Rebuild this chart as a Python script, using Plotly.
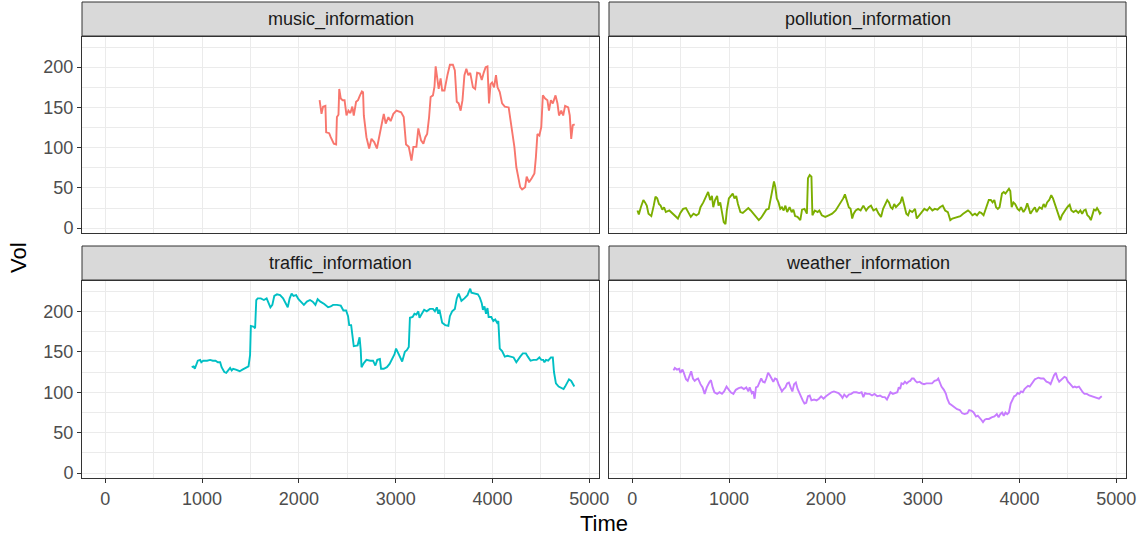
import plotly.graph_objects as go

# ---- data -------------------------------------------------------------
panels = ["music_information", "pollution_information",
          "traffic_information", "weather_information"]
colors = ["#F8766D", "#7CAE00", "#00BFC4", "#C77CFF"]

x_ticks = [0, 1000, 2000, 3000, 4000, 5000]
y_ticks = [0, 50, 100, 150, 200]

music_time = [2214, 2234, 2250, 2274, 2282, 2313, 2329, 2361, 2385, 2393,
              2409, 2417, 2433, 2452, 2472, 2492, 2512, 2532, 2552, 2567,
              2591, 2611, 2631, 2651, 2663, 2671, 2698, 2726, 2750, 2778,
              2806, 2829, 2857, 2877, 2897, 2925, 2948, 2976, 3008, 3056,
              3083, 3107, 3135, 3163, 3183, 3214, 3234, 3262, 3286, 3306,
              3325, 3345, 3361, 3385, 3401, 3413, 3433, 3444, 3464, 3480,
              3504, 3520, 3536, 3560, 3591, 3611, 3631, 3651, 3671, 3690,
              3710, 3730, 3750, 3770, 3798, 3821, 3841, 3869, 3889, 3909,
              3929, 3948, 3964, 3980, 3996, 4016, 4036, 4052, 4075, 4099,
              4127, 4167, 4187, 4206, 4226, 4246, 4266, 4286, 4306, 4337,
              4353, 4377, 4405, 4433, 4448, 4464, 4484, 4504, 4520, 4544,
              4567, 4583, 4603, 4623, 4651, 4671, 4687, 4710, 4730, 4750,
              4782, 4798, 4813, 4829, 4849]
music_vol = [159, 142, 151, 152, 119, 118, 113, 105, 104, 138,
             141, 173, 161, 159, 159, 140, 146, 143, 151, 140,
             157, 159, 165, 170, 169, 140, 113, 99, 111, 107,
             99, 115, 130, 142, 130, 138, 133, 142, 146, 144,
             138, 104, 101, 84, 101, 101, 124, 109, 105, 113,
             117, 138, 163, 165, 176, 201, 184, 173, 186, 171,
             171, 184, 191, 203, 203, 196, 157, 155, 146, 159,
             190, 198, 190, 193, 175, 173, 193, 192, 184, 193,
             200, 201, 155, 179, 181, 175, 190, 175, 169, 155,
             151, 150, 134, 117, 101, 76, 64, 51, 48, 51,
             64, 57, 62, 68, 88, 117, 115, 126, 165, 161,
             159, 146, 159, 155, 165, 155, 140, 146, 140, 152,
             150, 140, 111, 128, 129]

pollution_time = [54, 68, 89, 115, 132, 150, 168, 197, 222, 240,
                  258, 276, 293, 311, 329, 347, 383, 419, 447, 472,
                  497, 526, 555, 580, 605, 633, 662, 687, 705, 734,
                  758, 784, 805, 823, 837, 855, 877, 891, 909, 927,
                  945, 963, 977, 998, 1020, 1038, 1056, 1074, 1092, 1117,
                  1142, 1170, 1199, 1224, 1253, 1278, 1307, 1332, 1357, 1385,
                  1410, 1428, 1446, 1464, 1478, 1493, 1511, 1529, 1546, 1564,
                  1582, 1600, 1625, 1647, 1665, 1682, 1707, 1736, 1754, 1779,
                  1804, 1815, 1833, 1851, 1861, 1886, 1915, 1933, 1958, 1994,
                  2029, 2065, 2101, 2130, 2155, 2179, 2197, 2215, 2237, 2255,
                  2272, 2287, 2308, 2333, 2359, 2387, 2416, 2441, 2466, 2491,
                  2520, 2545, 2570, 2591, 2616, 2634, 2652, 2670, 2688, 2706,
                  2724, 2749, 2770, 2788, 2806, 2831, 2849, 2867, 2892, 2921,
                  2939, 2964, 2992, 3017, 3046, 3071, 3100, 3125, 3153, 3178,
                  3207, 3232, 3260, 3285, 3307, 3332, 3360, 3389, 3418, 3443,
                  3468, 3489, 3514, 3540, 3561, 3586, 3604, 3629, 3647, 3669,
                  3683, 3704, 3722, 3740, 3758, 3776, 3794, 3819, 3837, 3855,
                  3873, 3891, 3905, 3919, 3937, 3955, 3980, 3998, 4016, 4041,
                  4062, 4080, 4098, 4113, 4134, 4159, 4177, 4206, 4231, 4249,
                  4267, 4285, 4307, 4328, 4346, 4364, 4385, 4400, 4421, 4439,
                  4457, 4482, 4500, 4518, 4536, 4558, 4583, 4608, 4629, 4647,
                  4665, 4683, 4701, 4719, 4737, 4751, 4769, 4787, 4801, 4816,
                  4830, 4844]
pollution_vol = [22, 17, 26, 35, 32, 28, 18, 15, 28, 39,
                 37, 30, 28, 23, 26, 20, 22, 18, 15, 12,
                 19, 24, 25, 20, 14, 18, 16, 18, 26, 32,
                 38, 45, 35, 40, 26, 35, 40, 28, 32, 18,
                 7.5, 5, 22, 37, 41, 43, 37, 40, 30, 20,
                 19, 22, 25, 22, 18, 14, 10, 13, 18, 23,
                 24, 35, 47, 58, 51, 37, 32, 24, 26, 22,
                 28, 20, 26, 20, 23, 15, 14, 10, 23, 24,
                 18, 62, 66, 64, 16, 22, 20, 22, 16, 14,
                 16, 18, 22, 27, 32, 37, 42, 35, 26, 24,
                 12, 18, 22, 24, 22, 28, 22, 26, 28, 22,
                 24, 18, 14, 24, 30, 35, 32, 26, 24, 30,
                 26, 30, 32, 39, 30, 18, 16, 22, 20, 24,
                 12, 16, 20, 24, 22, 26, 22, 24, 23, 26,
                 28, 22, 20, 10, 12, 13, 14, 15, 18, 20,
                 22, 20, 16, 18, 16, 20, 19, 16, 22, 28,
                 35, 35, 32, 35, 26, 24, 26, 43, 45, 43,
                 46, 49, 46, 26, 32, 30, 24, 22, 26, 20,
                 24, 31, 24, 18, 22, 26, 20, 26, 24, 30,
                 26, 32, 35, 41, 37, 30, 24, 16, 10, 16,
                 20, 24, 27, 29, 22, 20, 22, 19, 22, 18,
                 22, 23, 16, 14, 10, 16, 23, 22, 25, 22,
                 18, 20]

traffic_time = [893, 913, 925, 940, 956, 980, 992, 1012, 1052, 1083,
                1111, 1139, 1163, 1187, 1202, 1230, 1250, 1270, 1290, 1306,
                1321, 1349, 1389, 1417, 1448, 1480, 1496, 1504, 1536, 1548,
                1560, 1575, 1607, 1639, 1667, 1687, 1706, 1726, 1746, 1774,
                1806, 1837, 1865, 1885, 1905, 1925, 1944, 1972, 1996, 2024,
                2052, 2083, 2115, 2143, 2171, 2194, 2222, 2262, 2302, 2329,
                2353, 2393, 2433, 2460, 2488, 2508, 2520, 2540, 2552, 2567,
                2607, 2627, 2639, 2647, 2671, 2698, 2738, 2766, 2790, 2810,
                2837, 2849, 2877, 2909, 2937, 2964, 2988, 3004, 3036, 3067,
                3095, 3115, 3135, 3147, 3175, 3194, 3214, 3234, 3246, 3266,
                3294, 3321, 3353, 3385, 3405, 3425, 3440, 3452, 3472, 3480,
                3512, 3544, 3560, 3583, 3611, 3631, 3651, 3679, 3710, 3742,
                3758, 3770, 3782, 3810, 3849, 3869, 3889, 3901, 3917, 3933,
                3948, 3960, 3988, 4008, 4028, 4048, 4060, 4075, 4099, 4127,
                4155, 4187, 4218, 4246, 4266, 4286, 4313, 4345, 4365, 4393,
                4425, 4456, 4484, 4504, 4524, 4536, 4552, 4575, 4603, 4623,
                4635, 4655, 4683, 4710, 4734, 4750, 4774, 4790, 4813, 4829,
                4845]
traffic_vol = [131, 132, 129, 135, 139, 140, 137, 139, 139, 140,
               139, 139, 137, 137, 131, 125, 124, 127, 130, 127,
               129, 128, 126, 128, 130, 132, 146, 182, 181, 179,
               214, 216, 216, 214, 216, 210, 205, 208, 219, 221,
               220, 216, 210, 205, 216, 222, 219, 220, 215, 212,
               208, 212, 214, 212, 208, 215, 212, 209, 205, 206,
               208, 208, 207, 201, 201, 194, 183, 183, 172, 157,
               158, 168, 152, 131, 136, 140, 139, 139, 133, 140,
               141, 129, 129, 131, 135, 141, 147, 154, 146, 138,
               150, 152, 156, 192, 193, 197, 196, 200, 192, 197,
               202, 200, 203, 203, 200, 205, 197, 202, 188, 186,
               183, 182, 194, 200, 203, 216, 222, 213, 216, 220,
               225, 228, 223, 222, 221, 217, 210, 202, 206, 197,
               204, 193, 193, 188, 190, 186, 188, 154, 151, 144,
               145, 144, 143, 137, 141, 144, 148, 148, 144, 139,
               140, 140, 143, 140, 140, 137, 140, 139, 143, 143,
               125, 111, 107, 105, 104, 107, 113, 116, 114, 111,
               107]

weather_time = [426, 440, 462, 484, 498, 519, 533, 555, 573, 591,
                609, 627, 645, 663, 680, 705, 727, 748, 770, 795,
                813, 831, 849, 877, 902, 927, 949, 974, 992, 1017,
                1045, 1070, 1099, 1128, 1153, 1178, 1199, 1213, 1235, 1249,
                1264, 1278, 1296, 1314, 1332, 1350, 1368, 1385, 1403, 1421,
                1439, 1457, 1475, 1493, 1511, 1529, 1546, 1564, 1582, 1600,
                1618, 1636, 1654, 1672, 1690, 1708, 1725, 1743, 1761, 1779,
                1797, 1815, 1833, 1851, 1879, 1904, 1929, 1951, 1976, 2001,
                2029, 2058, 2083, 2108, 2130, 2155, 2172, 2190, 2215, 2237,
                2262, 2287, 2316, 2344, 2369, 2387, 2405, 2423, 2452, 2477,
                2502, 2530, 2559, 2584, 2609, 2631, 2649, 2667, 2692, 2717,
                2738, 2753, 2767, 2781, 2799, 2817, 2835, 2853, 2871, 2889,
                2907, 2925, 2943, 2968, 2989, 3014, 3039, 3068, 3097, 3122,
                3147, 3161, 3176, 3194, 3219, 3240, 3254, 3276, 3301, 3326,
                3355, 3383, 3408, 3433, 3462, 3480, 3505, 3526, 3551, 3569,
                3587, 3605, 3623, 3641, 3659, 3684, 3712, 3741, 3766, 3784,
                3802, 3820, 3837, 3855, 3873, 3891, 3909, 3927, 3945, 3962,
                3980, 3998, 4016, 4034, 4052, 4070, 4088, 4106, 4123, 4141,
                4159, 4177, 4195, 4220, 4249, 4278, 4303, 4321, 4339, 4357,
                4375, 4392, 4410, 4428, 4446, 4464, 4482, 4500, 4518, 4536,
                4553, 4571, 4589, 4614, 4635, 4653, 4671, 4696, 4721, 4750,
                4778, 4803, 4821, 4839, 4850]
weather_vol = [127, 130, 128, 129, 124, 128, 124, 116, 114, 121,
               126, 117, 114, 116, 117, 110, 106, 98, 106, 112,
               115, 106, 100, 98, 100, 98, 101, 107, 104, 100,
               98, 103, 105, 106, 104, 106, 101, 106, 99, 101,
               92, 106, 107, 112, 117, 113, 112, 117, 124, 121,
               117, 113, 117, 116, 110, 106, 101, 104, 106, 111,
               112, 106, 101, 110, 112, 104, 99, 96, 90, 86,
               87, 95, 96, 90, 91, 90, 92, 95, 92, 95,
               98, 100, 101, 100, 99, 96, 93, 97, 94, 97,
               98, 100, 100, 99, 100, 94, 99, 98, 98, 96,
               98, 95, 96, 94, 94, 91, 96, 100, 98, 99,
               100, 106, 104, 111, 110, 113, 111, 113, 114, 117,
               117, 114, 112, 113, 111, 110, 111, 111, 111, 114,
               115, 117, 111, 107, 103, 98, 92, 86, 84, 82,
               79, 78, 74, 73, 74, 78, 77, 75, 70, 71,
               69, 66, 63, 66, 67, 67, 69, 70, 73, 69,
               73, 75, 71, 75, 73, 75, 86, 90, 95, 96,
               99, 98, 101, 100, 104, 106, 108, 107, 110, 112,
               116, 117, 118, 117, 117, 113, 112, 110, 117, 121,
               124, 117, 113, 115, 117, 119, 118, 113, 111, 108,
               106, 107, 106, 107, 103, 100, 98, 98, 96, 95,
               94, 93, 92, 94, 95]

series = [(music_time, music_vol), (pollution_time, pollution_vol),
          (traffic_time, traffic_vol), (weather_time, weather_vol)]

# ---- layout geometry (pixels in a 1141 x 537 page) --------------------
W, H = 1141, 537
cols_px = [(82, 599), (609, 1126)]
rows_px = [(37, 233), (281, 478)]          # panel top / bottom
strips_px = [(2, 36), (246, 280)]          # strip top / bottom

X_RANGE = [-240, 5100]
Y_RANGE = [-6, 237.5]

FONT = "Liberation Sans, Arial, sans-serif"
TEXT_SIZE = 18
TITLE_SIZE = 22
GRID = "#EBEBEB"
BORDER = "#333333"

fig = go.Figure()
shapes, annotations = [], []
layout_axes = {}

for i, (name, color, (xs, ys)) in enumerate(zip(panels, colors, series)):
    r, c = divmod(i, 2)
    n = i + 1
    xa = "x" if n == 1 else f"x{n}"
    ya = "y" if n == 1 else f"y{n}"
    fig.add_trace(go.Scatter(
        x=xs, y=ys, mode="lines", xaxis=xa, yaxis=ya,
        line=dict(color=color, width=1.9), showlegend=False,
        hoverinfo="skip"))

    x0, x1 = cols_px[c]
    top, bot = rows_px[r]
    bottom_row = r == 1
    left_col = c == 0

    layout_axes[f"xaxis{'' if n == 1 else n}"] = dict(
        domain=[x0 / W, x1 / W], anchor=ya, range=X_RANGE,
        tickvals=x_ticks, ticktext=[str(v) for v in x_ticks],
        showticklabels=bottom_row, ticks="outside" if bottom_row else "",
        ticklen=4, tickwidth=1, tickcolor=BORDER,
        tickfont=dict(family=FONT, size=TEXT_SIZE, color="#4D4D4D"),
        showgrid=True, gridcolor=GRID, gridwidth=1.4,
        minor=dict(tickvals=[500, 1500, 2500, 3500, 4500], showgrid=True,
                   gridcolor=GRID, gridwidth=0.7, ticks=""),
        zeroline=False, showline=True, mirror=True, automargin=False,
        linecolor=BORDER, linewidth=1, fixedrange=True)
    layout_axes[f"yaxis{'' if n == 1 else n}"] = dict(
        domain=[1 - bot / H, 1 - top / H], anchor=xa, range=Y_RANGE,
        tickvals=y_ticks, ticktext=[str(v) for v in y_ticks],
        showticklabels=left_col, ticks="outside" if left_col else "",
        ticklen=4, tickwidth=1, tickcolor=BORDER,
        tickfont=dict(family=FONT, size=TEXT_SIZE, color="#4D4D4D"),
        showgrid=True, gridcolor=GRID, gridwidth=1.4,
        minor=dict(tickvals=[25, 75, 125, 175, 225], showgrid=True,
                   gridcolor=GRID, gridwidth=0.7, ticks=""),
        zeroline=False, showline=True, mirror=True, automargin=False,
        linecolor=BORDER, linewidth=1, fixedrange=True)

    # facet strip
    s_top, s_bot = strips_px[r]
    shapes.append(dict(type="rect", xref="paper", yref="paper",
                       x0=x0 / W, x1=x1 / W, y0=1 - s_bot / H, y1=1 - s_top / H,
                       fillcolor="#D9D9D9", line=dict(color=BORDER, width=1),
                       layer="above"))
    annotations.append(dict(text=name, xref="paper", yref="paper",
                            x=(x0 + x1) / 2 / W, y=1 - (s_top + s_bot) / 2 / H,
                            xanchor="center", yanchor="middle", showarrow=False,
                            font=dict(family=FONT, size=TEXT_SIZE, color="#1A1A1A")))

# axis titles
annotations.append(dict(text="Time", xref="paper", yref="paper",
                        x=(82 + 1126) / 2 / W, y=1 - 523 / H,
                        xanchor="center", yanchor="middle", showarrow=False,
                        font=dict(family=FONT, size=TITLE_SIZE, color="#000000")))
annotations.append(dict(text="Vol", xref="paper", yref="paper",
                        x=18 / W, y=1 - 258 / H, textangle=-90,
                        xanchor="center", yanchor="middle", showarrow=False,
                        font=dict(family=FONT, size=TITLE_SIZE, color="#000000")))

fig.update_layout(
    width=W, height=H, margin=dict(l=0, r=0, t=0, b=0, pad=0),
    paper_bgcolor="white", plot_bgcolor="white",
    shapes=shapes, annotations=annotations, showlegend=False,
    hovermode=False, **layout_axes)

fig.write_html("out.html", include_plotlyjs=True, full_html=True,
               config={"displayModeBar": False})
